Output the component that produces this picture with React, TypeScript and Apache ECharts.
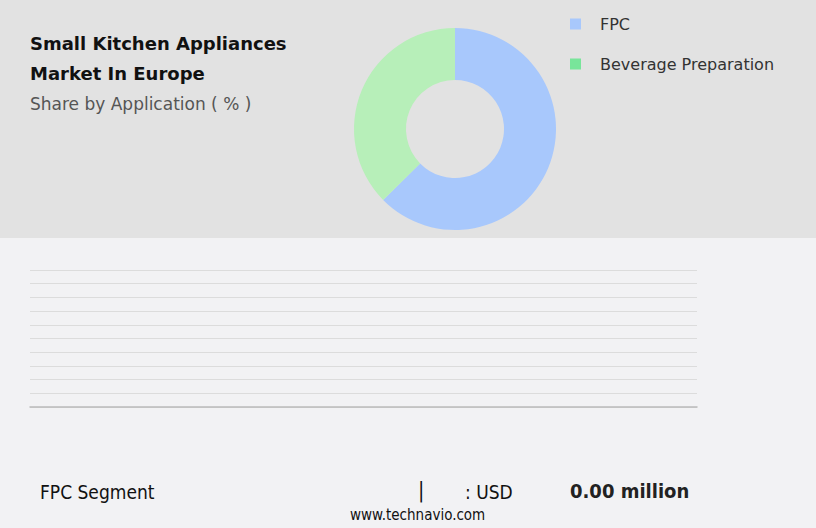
import { useEffect, useRef } from "react";
import * as echarts from "echarts";

// 数据
const segments = ["FPC", "Beverage Preparation"];
const shares = [62.6, 37.4];
const sliceColors = ["#a8c8fc", "#b7efb9"];
const legendColors = ["#a8c8fc", "#78e59a"];
const yTicks = [0, 1, 2, 3, 4, 5, 6, 7, 8, 9, 10];
const footerLabel = "FPC Segment";
const footerUnit = ": USD";
const footerValue = "0.00 million";

function App() {
  const containerRef = useRef<HTMLDivElement>(null);

  useEffect(() => {
    document.body.style.margin = "0";
    if (!containerRef.current) return;
    const chart = echarts.init(containerRef.current, null, { renderer: "svg" });

    chart.setOption({
      animation: false,
      backgroundColor: "#f2f2f4",
      title: {
        left: 30,
        top: 28,
        padding: 0,
        text: "Small Kitchen Appliances\nMarket In Europe",
        subtext: "Share by Application ( % )",
        itemGap: 7,
        textStyle: {
          fontFamily: "DejaVu Sans",
          fontWeight: "bold",
          fontSize: 18,
          lineHeight: 30,
          color: "#111",
        },
        subtextStyle: {
          fontFamily: "DejaVu Sans",
          fontSize: 17,
          color: "#555",
        },
      },
      legend: {
        orient: "vertical",
        left: 570,
        top: 16,
        padding: 0,
        itemWidth: 11,
        itemHeight: 11,
        itemGap: 24,
        icon: "rect",
        textStyle: {
          fontFamily: "DejaVu Sans",
          fontSize: 16,
          color: "#333",
          padding: [0, 0, 0, 14],
        },
        data: segments.map((name, i) => ({
          name,
          itemStyle: { color: legendColors[i] },
        })),
      },
      graphic: [
        {
          type: "rect",
          z: -10,
          silent: true,
          shape: { x: 0, y: 0, width: 816, height: 238 },
          style: { fill: "#e2e2e2" },
        },
        {
          type: "text",
          left: 40,
          top: 482,
          style: {
            text: footerLabel,
            font: "19px 'DejaVu Sans Condensed', sans-serif",
            fill: "#111",
          },
        },
        {
          type: "text",
          left: 418,
          top: 479,
          style: {
            text: "|",
            font: "21px 'DejaVu Sans Condensed', sans-serif",
            fill: "#111",
          },
        },
        {
          type: "text",
          left: 465,
          top: 482,
          style: {
            text: footerUnit,
            font: "19px 'DejaVu Sans Condensed', sans-serif",
            fill: "#111",
          },
        },
        {
          type: "text",
          left: 570,
          top: 481,
          style: {
            text: footerValue,
            font: "bold 20px 'DejaVu Sans Condensed', sans-serif",
            fill: "#222",
          },
        },
        {
          type: "text",
          left: 350,
          top: 507,
          style: {
            text: "www.technavio.com",
            font: "15px 'DejaVu Sans Condensed', sans-serif",
            fill: "#111",
          },
        },
      ],
      grid: {
        left: 30,
        right: 119,
        top: 270,
        height: 137,
      },
      xAxis: {
        type: "category",
        data: [""],
        axisLine: { show: true, lineStyle: { color: "#bbb", width: 1.5 } },
        axisTick: { show: false },
        axisLabel: { show: false },
      },
      yAxis: {
        type: "value",
        min: yTicks[0],
        max: yTicks[yTicks.length - 1],
        interval: 1,
        axisLabel: { show: false },
        axisLine: { show: false },
        axisTick: { show: false },
        splitLine: { lineStyle: { color: "#dcdcdc", width: 1 } },
      },
      series: [
        {
          type: "bar",
          data: [],
          silent: true,
        },
        {
          name: "Share",
          type: "pie",
          center: [455, 129],
          radius: [49, 101],
          startAngle: 90,
          clockwise: true,
          label: { show: false },
          labelLine: { show: false },
          silent: true,
          data: segments.map((name, i) => ({
            name,
            value: shares[i],
            itemStyle: { color: sliceColors[i] },
          })),
        },
      ],
    });

    return () => {
      chart.dispose();
    };
  }, []);

  return <div ref={containerRef} style={{ width: 816, height: 528 }}></div>;
}

export default App;
